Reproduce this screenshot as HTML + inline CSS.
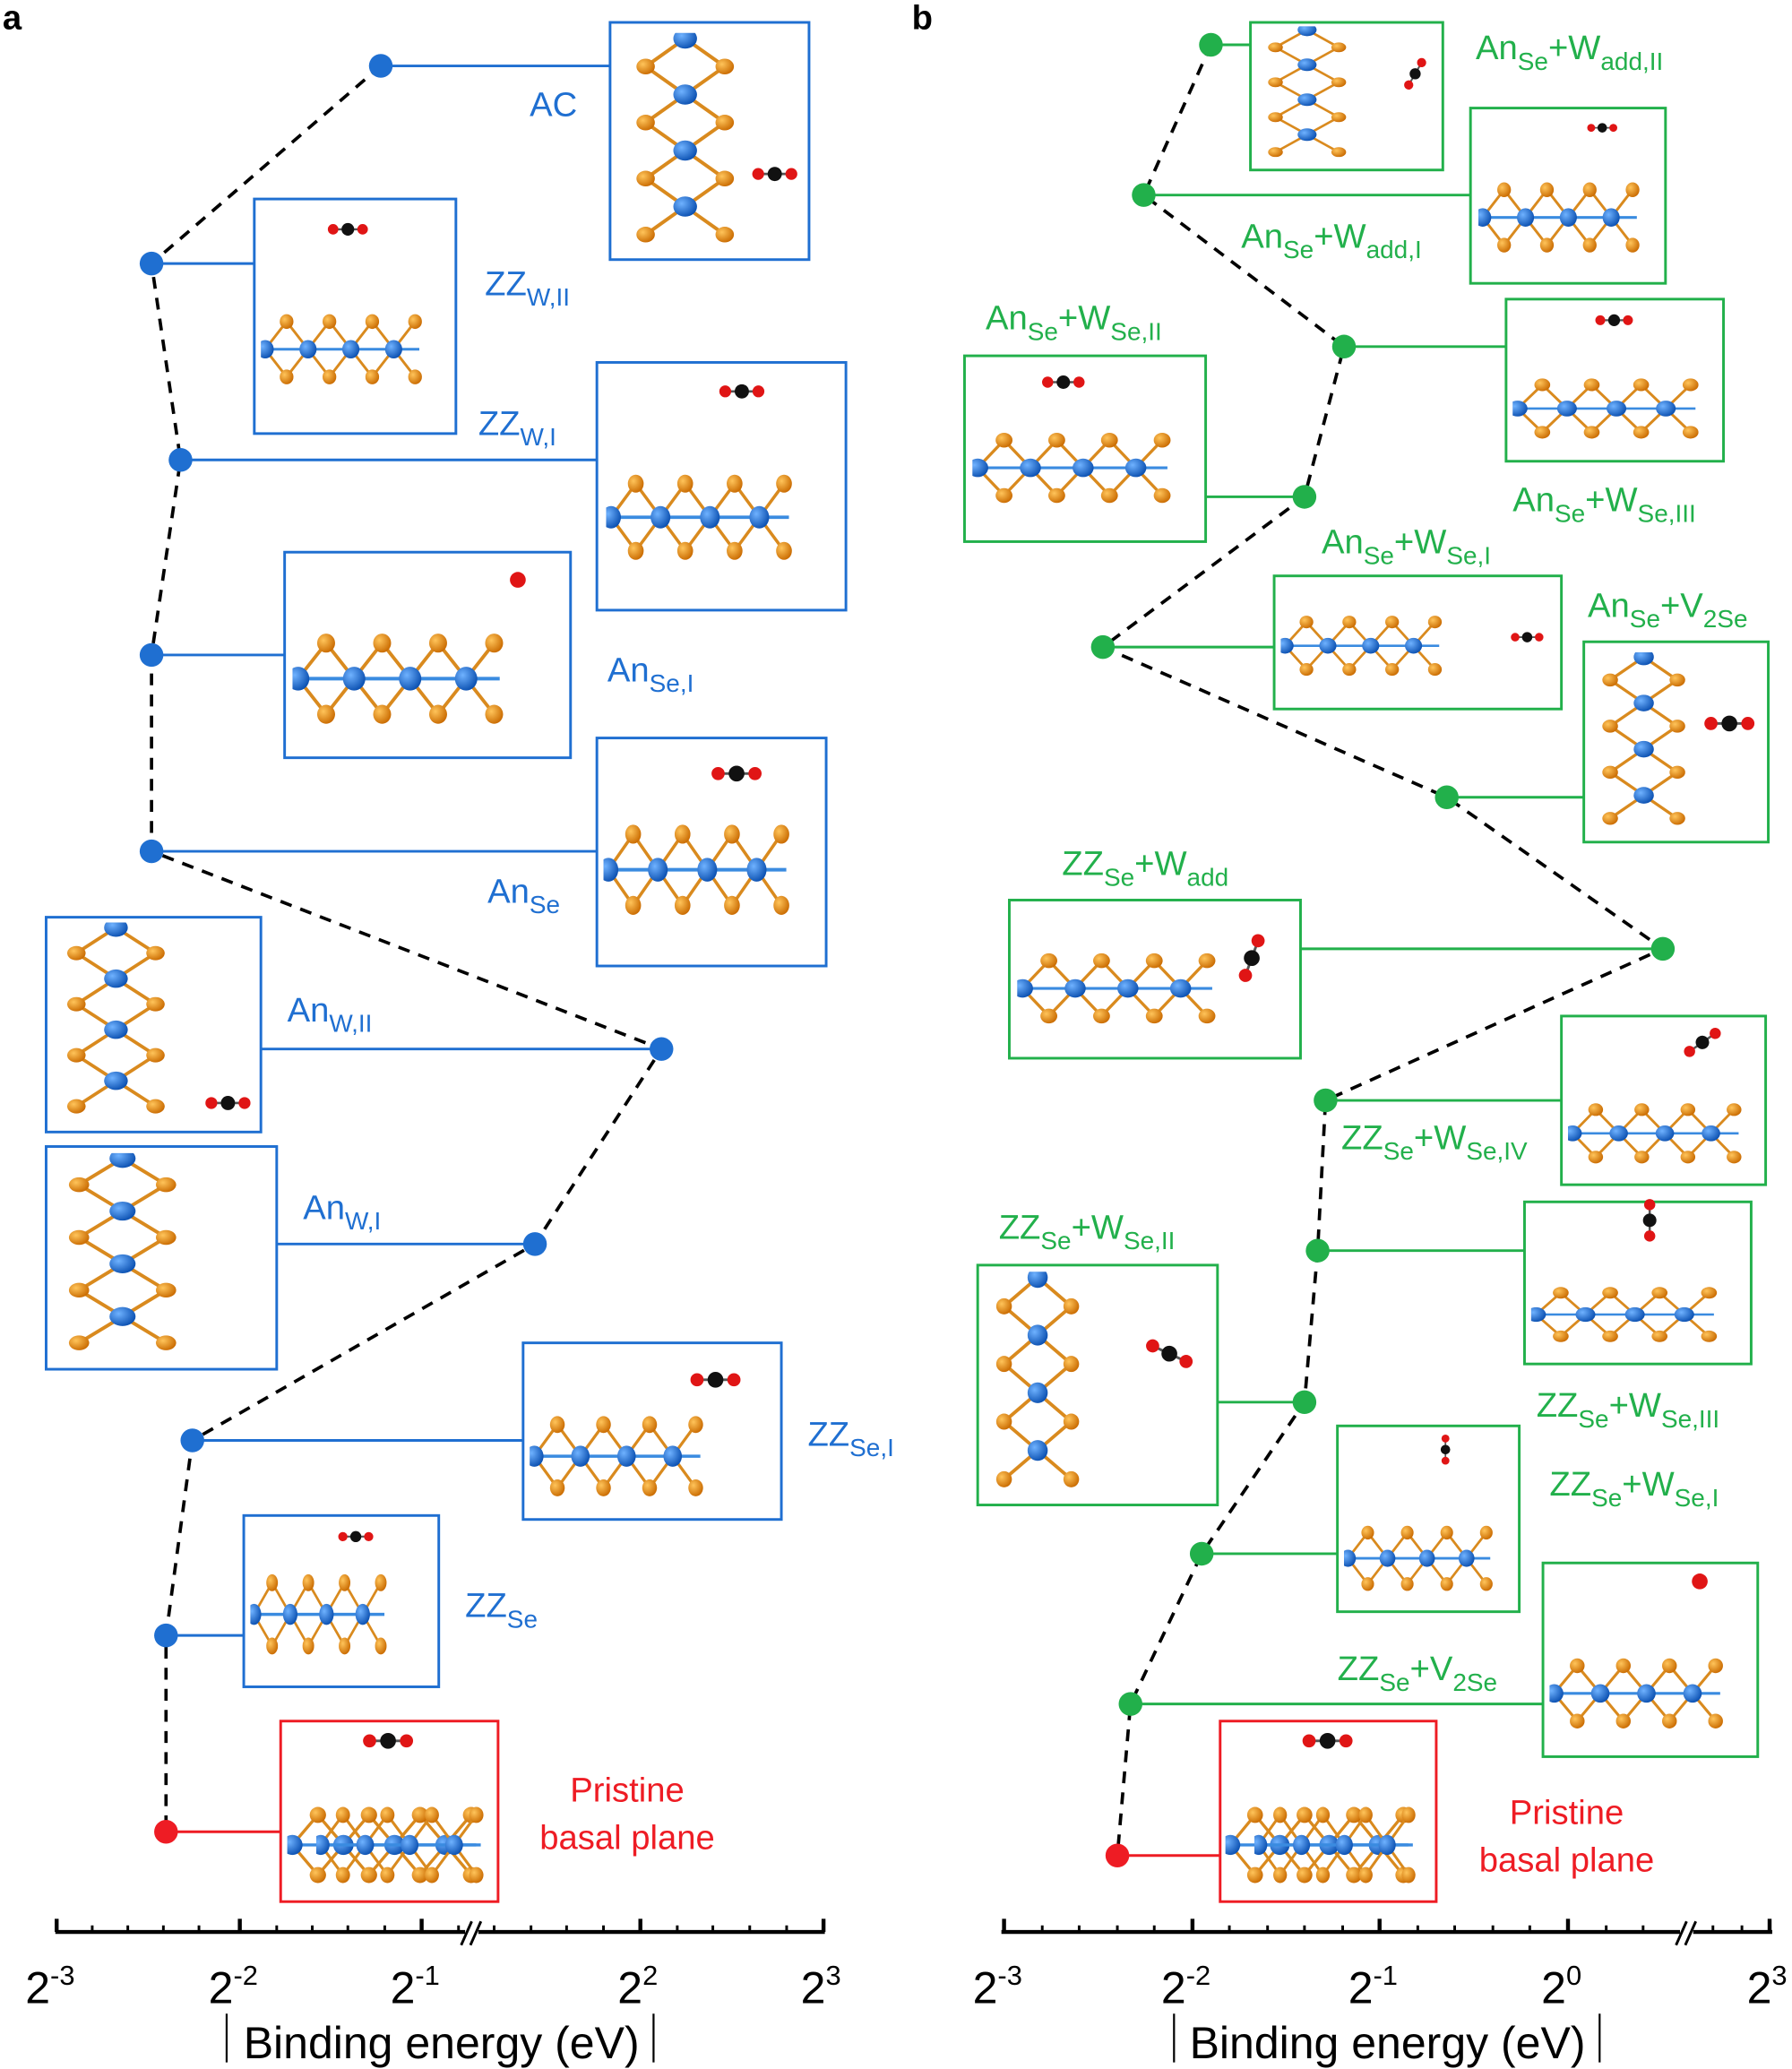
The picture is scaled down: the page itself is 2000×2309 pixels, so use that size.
<!DOCTYPE html>
<html><head><meta charset="utf-8"><style>
html,body{margin:0;padding:0;background:#fff}
svg{display:block}
text{font-family:"Liberation Sans",Arial,sans-serif}
.ax text{font-family:"Liberation Sans Narrow","Liberation Sans",Arial,sans-serif}
.b{fill:#1f6fd1}.g{fill:#22b04b}.r{fill:#ee1c24}
.lb{font-size:26px}
</style></head><body>
<svg width="2000" height="2309" viewBox="0 0 1360 1570" preserveAspectRatio="none" xmlns="http://www.w3.org/2000/svg">
<defs>
<radialGradient id="og" cx="35%" cy="35%" r="70%"><stop offset="0" stop-color="#ffc45a"/><stop offset="1" stop-color="#c96a00"/></radialGradient>
<radialGradient id="bg" cx="35%" cy="35%" r="70%"><stop offset="0" stop-color="#6fb2ff"/><stop offset="1" stop-color="#0a4fb0"/></radialGradient>
<symbol id="slab" viewBox="0 0 200 100" preserveAspectRatio="none">
<g stroke="#d98a1e" stroke-width="3" fill="none">
<path d="M5 50 L30 20 L55 50 L80 20 L105 50 L130 20 L155 50 L180 20 M5 50 L30 80 L55 50 L80 80 L105 50 L130 80 L155 50 L180 80"/>
</g>
<g stroke="#3a8be0" stroke-width="3" fill="none"><path d="M5 50 H185"/></g>
<g fill="url(#og)"><circle cx="30" cy="20" r="8"/><circle cx="80" cy="20" r="8"/><circle cx="130" cy="20" r="8"/><circle cx="180" cy="20" r="8"/><circle cx="30" cy="80" r="8"/><circle cx="80" cy="80" r="8"/><circle cx="130" cy="80" r="8"/><circle cx="180" cy="80" r="8"/></g>
<g fill="url(#bg)"><circle cx="5" cy="50" r="10"/><circle cx="55" cy="50" r="10"/><circle cx="105" cy="50" r="10"/><circle cx="155" cy="50" r="10"/></g>
</symbol>
<symbol id="vert" viewBox="0 0 100 200" preserveAspectRatio="none">
<g stroke="#d98a1e" stroke-width="3" fill="none"><path d="M50 5 L20 30 L50 55 L20 80 L50 105 L20 130 L50 155 L20 180 M50 5 L80 30 L50 55 L80 80 L50 105 L80 130 L50 155 L80 180"/></g>
<g fill="url(#og)"><circle cx="20" cy="30" r="7"/><circle cx="20" cy="80" r="7"/><circle cx="20" cy="130" r="7"/><circle cx="20" cy="180" r="7"/><circle cx="80" cy="30" r="7"/><circle cx="80" cy="80" r="7"/><circle cx="80" cy="130" r="7"/><circle cx="80" cy="180" r="7"/></g>
<g fill="url(#bg)"><circle cx="50" cy="5" r="9"/><circle cx="50" cy="55" r="9"/><circle cx="50" cy="105" r="9"/><circle cx="50" cy="155" r="9"/></g>
</symbol>
<symbol id="co2" viewBox="0 0 40 14"><path d="M6 7H34" stroke="#555" stroke-width="2"/><circle cx="6" cy="7" r="5" fill="#e01515"/><circle cx="20" cy="7" r="6" fill="#111"/><circle cx="34" cy="7" r="5" fill="#e01515"/></symbol>
</defs>

<text x="2" y="22" font-size="26" font-weight="bold">a</text>
<text x="692" y="22" font-size="26" font-weight="bold">b</text>

<polyline points="289,50 115,200 137,349 115,497 115,646 502,796 406,944 146,1093 126,1241 126,1390" fill="none" stroke="#000" stroke-width="2.5" stroke-dasharray="9,7"/>
<g stroke="#1f6fd1" stroke-width="2" fill="none">
<path d="M289 50H463M115 200H193M137 349H453M115 497H216M115 646H453M198 796H502M210 944H406M146 1093H397M126 1241H185"/>
<rect x="463" y="17" width="151" height="180"/>
<rect x="193" y="151" width="153" height="178"/>
<rect x="453" y="275" width="189" height="188"/>
<rect x="216" y="419" width="217" height="156"/>
<rect x="453" y="560" width="174" height="173"/>
<rect x="35" y="696" width="163" height="163"/>
<rect x="35" y="870" width="175" height="169"/>
<rect x="397" y="1019" width="196" height="134"/>
<rect x="185" y="1150" width="148" height="130"/>
</g>
<path d="M126 1390H213" stroke="#ee1c24" stroke-width="2"/>
<rect x="213" y="1306" width="165" height="137" fill="none" stroke="#ee1c24" stroke-width="2"/>
<use href="#vert" x="470" y="25" width="100" height="170"/><use href="#co2" x="570" y="125" width="36" height="14"/>
<use href="#slab" x="198" y="230" width="130" height="70"/><use href="#co2" x="248" y="168" width="32" height="12"/>
<use href="#slab" x="460" y="350" width="150" height="85"/><use href="#co2" x="545" y="290" width="36" height="14"/>
<use href="#slab" x="222" y="470" width="170" height="90"/><circle cx="393" cy="440" r="6" fill="#e01515"/>
<use href="#slab" x="458" y="615" width="150" height="90"/><use href="#co2" x="534" y="580" width="50" height="14"/>
<use href="#vert" x="38" y="700" width="100" height="155"/><use href="#co2" x="155" y="830" width="36" height="14"/>
<use href="#vert" x="38" y="875" width="110" height="160"/>
<use href="#slab" x="402" y="1065" width="140" height="80"/><use href="#co2" x="518" y="1040" width="50" height="14"/>
<use href="#slab" x="190" y="1185" width="110" height="80"/><use href="#co2" x="256" y="1160" width="28" height="12"/>
<use href="#slab" x="218" y="1362" width="155" height="76"/><use href="#slab" x="240" y="1362" width="135" height="76"/><use href="#co2" x="272" y="1314" width="45" height="14"/>

<g fill="#1f6fd1"><circle cx="289" cy="50" r="9"/><circle cx="115" cy="200" r="9"/><circle cx="137" cy="349" r="9"/><circle cx="115" cy="497" r="9"/><circle cx="115" cy="646" r="9"/><circle cx="502" cy="796" r="9"/><circle cx="406" cy="944" r="9"/><circle cx="146" cy="1093" r="9"/><circle cx="126" cy="1241" r="9"/></g>
<circle cx="126" cy="1390" r="9" fill="#ee1c24"/>
<g class="b lb">
<text x="402" y="88">AC</text>
<text x="368" y="224">ZZ<tspan font-size="19" dy="8">W,II</tspan></text>
<text x="363" y="330">ZZ<tspan font-size="19" dy="8">W,I</tspan></text>
<text x="461" y="517">An<tspan font-size="19" dy="8">Se,I</tspan></text>
<text x="370" y="685">An<tspan font-size="19" dy="8">Se</tspan></text>
<text x="218" y="775">An<tspan font-size="19" dy="8">W,II</tspan></text>
<text x="230" y="925">An<tspan font-size="19" dy="8">W,I</tspan></text>
<text x="613" y="1097">ZZ<tspan font-size="19" dy="8">Se,I</tspan></text>
<text x="353" y="1227">ZZ<tspan font-size="19" dy="8">Se</tspan></text>
</g>
<g class="r lb" text-anchor="middle"><text x="476" y="1367">Pristine</text><text x="476" y="1403">basal plane</text></g>

<polyline points="919,34 868,148 1020,263 990,377 837,491 1098,605 1262,720 1006,835 1000,949 990,1064 912,1179 858,1293 848,1408" fill="none" stroke="#000" stroke-width="2.5" stroke-dasharray="9,7"/>
<g stroke="#22b04b" stroke-width="2" fill="none">
<path d="M919 34H949M868 148H1116M1020 263H1143M915 377H990M837 491H967M1098 605H1202M987 720H1262M1006 835H1185M1000 949H1157M924 1064H990M912 1179H1015M858 1293H1171"/>
<rect x="949" y="17" width="146" height="112"/>
<rect x="1116" y="82" width="148" height="133"/>
<rect x="1143" y="227" width="165" height="123"/>
<rect x="732" y="270" width="183" height="141"/>
<rect x="967" y="437" width="218" height="101"/>
<rect x="1202" y="487" width="140" height="152"/>
<rect x="766" y="683" width="221" height="120"/>
<rect x="1185" y="771" width="155" height="128"/>
<rect x="1157" y="912" width="172" height="123"/>
<rect x="742" y="960" width="182" height="182"/>
<rect x="1015" y="1082" width="138" height="141"/>
<rect x="1171" y="1186" width="163" height="147"/>
</g>
<path d="M848 1408H926" stroke="#ee1c24" stroke-width="2"/>
<rect x="926" y="1306" width="164" height="137" fill="none" stroke="#ee1c24" stroke-width="2"/>
<use href="#vert" x="952" y="20" width="80" height="106"/><use href="#co2" x="1060" y="50" width="28" height="12" transform="rotate(-60 1074 56)"/>
<use href="#slab" x="1122" y="130" width="130" height="70"/><use href="#co2" x="1204" y="92" width="24" height="10"/>
<use href="#slab" x="1148" y="280" width="150" height="60"/><use href="#co2" x="1210" y="237" width="30" height="12"/>
<use href="#slab" x="738" y="320" width="160" height="70"/><use href="#co2" x="790" y="284" width="34" height="12"/>
<use href="#slab" x="972" y="460" width="130" height="60"/><use href="#co2" x="1146" y="478" width="26" height="11"/>
<use href="#vert" x="1205" y="495" width="85" height="140"/><use href="#co2" x="1290" y="542" width="45" height="14"/>
<use href="#slab" x="772" y="715" width="160" height="70"/><use href="#co2" x="930" y="720" width="40" height="14" transform="rotate(-70 950 727)"/>
<use href="#slab" x="1190" y="830" width="140" height="60"/><use href="#co2" x="1275" y="785" width="34" height="12" transform="rotate(-35 1292 791)"/>
<use href="#slab" x="1162" y="970" width="150" height="55"/><use href="#co2" x="1235" y="920" width="34" height="12" transform="rotate(90 1252 926)"/>
<use href="#vert" x="745" y="965" width="85" height="175"/><use href="#co2" x="865" y="1020" width="45" height="14" transform="rotate(25 887 1027)"/>
<use href="#slab" x="1020" y="1150" width="120" height="65"/><use href="#co2" x="1085" y="1095" width="24" height="10" transform="rotate(90 1097 1100)"/>
<use href="#slab" x="1176" y="1250" width="140" height="70"/><circle cx="1290" cy="1200" r="6" fill="#e01515"/>
<use href="#slab" x="930" y="1362" width="150" height="76"/><use href="#slab" x="952" y="1362" width="130" height="76"/><use href="#co2" x="985" y="1314" width="45" height="14"/>

<g fill="#22b04b"><circle cx="919" cy="34" r="9"/><circle cx="868" cy="148" r="9"/><circle cx="1020" cy="263" r="9"/><circle cx="990" cy="377" r="9"/><circle cx="837" cy="491" r="9"/><circle cx="1098" cy="605" r="9"/><circle cx="1262" cy="720" r="9"/><circle cx="1006" cy="835" r="9"/><circle cx="1000" cy="949" r="9"/><circle cx="990" cy="1064" r="9"/><circle cx="912" cy="1179" r="9"/><circle cx="858" cy="1293" r="9"/></g>
<circle cx="848" cy="1408" r="9" fill="#ee1c24"/>
<g class="g lb">
<text x="1120" y="45">An<tspan font-size="19" dy="8">Se</tspan><tspan dy="-8">+W</tspan><tspan font-size="19" dy="8">add,II</tspan></text>
<text x="942" y="188">An<tspan font-size="19" dy="8">Se</tspan><tspan dy="-8">+W</tspan><tspan font-size="19" dy="8">add,I</tspan></text>
<text x="748" y="250">An<tspan font-size="19" dy="8">Se</tspan><tspan dy="-8">+W</tspan><tspan font-size="19" dy="8">Se,II</tspan></text>
<text x="1148" y="388">An<tspan font-size="19" dy="8">Se</tspan><tspan dy="-8">+W</tspan><tspan font-size="19" dy="8">Se,III</tspan></text>
<text x="1003" y="420">An<tspan font-size="19" dy="8">Se</tspan><tspan dy="-8">+W</tspan><tspan font-size="19" dy="8">Se,I</tspan></text>
<text x="1205" y="468">An<tspan font-size="19" dy="8">Se</tspan><tspan dy="-8">+V</tspan><tspan font-size="19" dy="8">2Se</tspan></text>
<text x="806" y="664">ZZ<tspan font-size="19" dy="8">Se</tspan><tspan dy="-8">+W</tspan><tspan font-size="19" dy="8">add</tspan></text>
<text x="1018" y="872">ZZ<tspan font-size="19" dy="8">Se</tspan><tspan dy="-8">+W</tspan><tspan font-size="19" dy="8">Se,IV</tspan></text>
<text x="758" y="940">ZZ<tspan font-size="19" dy="8">Se</tspan><tspan dy="-8">+W</tspan><tspan font-size="19" dy="8">Se,II</tspan></text>
<text x="1166" y="1075">ZZ<tspan font-size="19" dy="8">Se</tspan><tspan dy="-8">+W</tspan><tspan font-size="19" dy="8">Se,III</tspan></text>
<text x="1176" y="1135">ZZ<tspan font-size="19" dy="8">Se</tspan><tspan dy="-8">+W</tspan><tspan font-size="19" dy="8">Se,I</tspan></text>
<text x="1015" y="1275">ZZ<tspan font-size="19" dy="8">Se</tspan><tspan dy="-8">+V</tspan><tspan font-size="19" dy="8">2Se</tspan></text>
</g>
<g class="r lb" text-anchor="middle"><text x="1189" y="1384">Pristine</text><text x="1189" y="1420">basal plane</text></g>

<g stroke="#000" stroke-width="3" fill="none">
<path d="M42 1466H353M363 1466H626"/>
<path d="M43 1456V1466M182 1456V1466M320 1456V1466M486 1456V1466M625 1456V1466"/>
<path d="M760 1466H1275M1285 1466H1345"/>
<path d="M762 1456V1466M905 1456V1466M1047 1456V1466M1190 1456V1466M1343 1456V1466"/>
</g>
<g stroke="#000" stroke-width="2">
<path d="M70 1461V1466M97 1461V1466M124 1461V1466M151 1461V1466M210 1461V1466M237 1461V1466M264 1461V1466M292 1461V1466M348 1461V1466M375 1461V1466M403 1461V1466M430 1461V1466M458 1461V1466M514 1461V1466M541 1461V1466M569 1461V1466M597 1461V1466"/>
<path d="M350 1476L358 1458M357 1476L365 1458"/>
<path d="M791 1461V1466M819 1461V1466M848 1461V1466M876 1461V1466M933 1461V1466M962 1461V1466M990 1461V1466M1019 1461V1466M1076 1461V1466M1104 1461V1466M1133 1461V1466M1161 1461V1466M1219 1461V1466M1247 1461V1466M1300 1461V1466M1322 1461V1466"/>
<path d="M1272 1476L1280 1458M1279 1476L1287 1458"/>
</g>
<g class="ax" font-size="34" fill="#000" text-anchor="middle">
<text x="38" y="1520">2<tspan font-size="21" dy="-14">-3</tspan></text>
<text x="177" y="1520">2<tspan font-size="21" dy="-14">-2</tspan></text>
<text x="315" y="1520">2<tspan font-size="21" dy="-14">-1</tspan></text>
<text x="484" y="1520">2<tspan font-size="21" dy="-14">2</tspan></text>
<text x="623" y="1520">2<tspan font-size="21" dy="-14">3</tspan></text>
<text x="757" y="1520">2<tspan font-size="21" dy="-14">-3</tspan></text>
<text x="900" y="1520">2<tspan font-size="21" dy="-14">-2</tspan></text>
<text x="1042" y="1520">2<tspan font-size="21" dy="-14">-1</tspan></text>
<text x="1185" y="1520">2<tspan font-size="21" dy="-14">0</tspan></text>
<text x="1341" y="1520">2<tspan font-size="21" dy="-14">3</tspan></text>
<text x="335" y="1562">Binding energy (eV)</text>
<text x="1053" y="1562">Binding energy (eV)</text>
</g>
<g stroke="#000" stroke-width="1.5"><path d="M172 1528V1565M496 1528V1565M891 1528V1565M1214 1528V1565"/></g>
</svg>
</body></html>
